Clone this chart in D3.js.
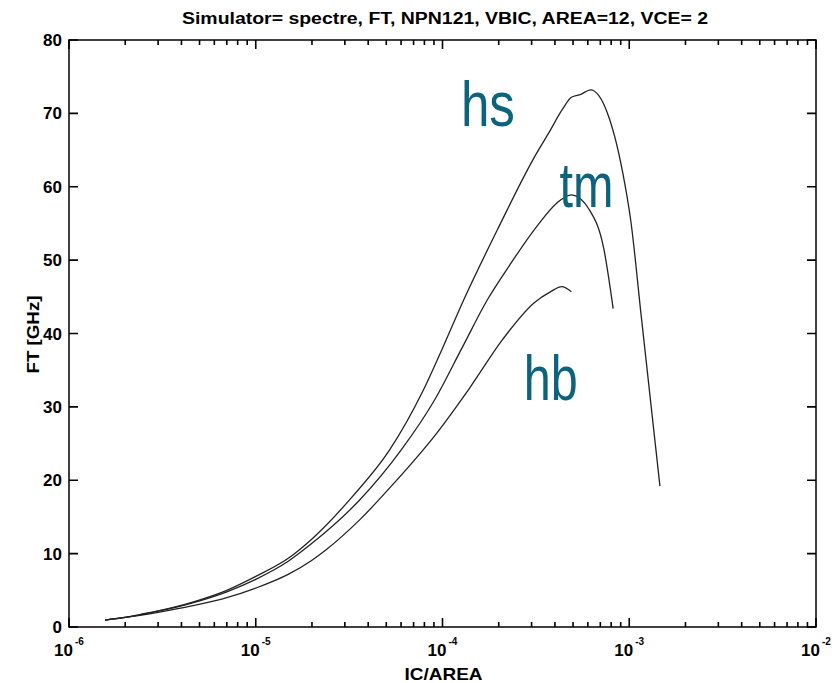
<!DOCTYPE html>
<html>
<head>
<meta charset="utf-8">
<script src="https://cdn.jsdelivr.net/npm/d3@7"></script>
<style>
  body { margin: 0; background: #fff; }
  text { font-family: "Liberation Sans", Arial, sans-serif; }
</style>
</head>
<body>
<div id="chart-area"></div>
<script>
// data
const icHs = [1.56e-6, 2.0e-6, 2.4e-6, 3.0e-6, 4.6e-6, 7.0e-6, 1.0e-5, 1.5e-5, 2.0e-5, 3.3e-5, 5.2e-5, 7.9e-5, 1.0e-4, 1.3e-4, 2.0e-4, 3.1e-4, 3.7e-4, 4.4e-4, 4.9e-4, 5.5e-4, 6.2e-4, 7.6e-4, 9.2e-4, 1.02e-3, 1.16e-3, 1.46e-3];
const ftHs = [0.95, 1.3, 1.7, 2.2, 3.4, 5.0, 6.9, 9.4, 12.0, 17.8, 24.1, 32.3, 38.0, 44.6, 54.5, 64.0, 67.3, 70.6, 72.2, 72.6, 73.2, 70.2, 62.1, 55.3, 42.3, 19.2];

const icTm = [1.56e-6, 2.0e-6, 2.4e-6, 3.0e-6, 4.6e-6, 7.0e-6, 1.0e-5, 1.5e-5, 2.0e-5, 3.6e-5, 6.0e-5, 9.1e-5, 1.27e-4, 1.73e-4, 2.3e-4, 3.2e-4, 4.1e-4, 4.9e-4, 6.1e-4, 7.3e-4, 8.2e-4];
const ftTm = [0.95, 1.3, 1.65, 2.15, 3.3, 4.8, 6.5, 9.0, 11.4, 17.3, 24.1, 31.0, 38.0, 44.5, 49.4, 54.6, 57.8, 58.9, 56.9, 51.6, 43.4];

const icHb = [1.56e-6, 2.0e-6, 2.4e-6, 3.0e-6, 4.6e-6, 7.0e-6, 1.0e-5, 1.5e-5, 2.0e-5, 2.4e-5, 3.6e-5, 5.5e-5, 9.3e-5, 1.4e-4, 2.1e-4, 3.1e-4, 3.8e-4, 4.35e-4, 4.9e-4];
const ftHb = [0.95, 1.3, 1.6, 2.0, 2.9, 4.0, 5.3, 7.2, 9.1, 10.6, 14.6, 19.6, 26.4, 32.6, 39.2, 44.2, 45.7, 46.4, 45.7];

const yTicks = [0, 10, 20, 30, 40, 50, 60, 70, 80];
const xDecades = [1e-6, 1e-5, 1e-4, 1e-3, 1e-2];
const xExponents = ['-6', '-5', '-4', '-3', '-2'];

const curveNames = ['hs', 'tm', 'hb'];
const nameIc = [1.75e-4, 5.9e-4, 3.8e-4];
const nameFt = [68.3, 57.3, 31.0];

// margins
const margin = { left: 69, right: 20, top: 40, bottom: 56 };
const width = 836 - margin.left - margin.right;
const height = 683 - margin.top - margin.bottom;

const svg = d3.select('#chart-area')
    .append('svg')
        .attr('width', 836)
        .attr('height', 683);

const g = svg.append('g')
    .attr('transform', `translate(${margin.left}, ${margin.top})`);

const x = d3.scaleLog()
    .domain([1e-6, 1e-2])
    .range([0, width]);

const y = d3.scaleLinear()
    .domain([0, 80])
    .range([height, 0]);

// minor ticks 2..9 in each decade
const minor = [];
xDecades.slice(0, -1).forEach(dec => {
    for (let k = 2; k <= 9; k++) minor.push(dec * k);
});

// tick marks as one path, all pointing inward
const xTickData = xDecades.map(v => ({ v, len: 9 }))
    .concat(minor.map(v => ({ v, len: 5 })));
const tickPath = d3.path();
xTickData.forEach(d => {
    const px = x(d.v);
    tickPath.moveTo(px, height);
    tickPath.lineTo(px, height - d.len);
    tickPath.moveTo(px, 0);
    tickPath.lineTo(px, d.len);
});
yTicks.forEach(v => {
    tickPath.moveTo(0, y(v));
    tickPath.lineTo(9, y(v));
    tickPath.moveTo(width, y(v));
    tickPath.lineTo(width - 9, y(v));
});
g.append('path')
    .attr('d', tickPath.toString())
    .attr('fill', 'none')
    .attr('stroke', '#000')
    .attr('stroke-width', 1.6);

// frame
g.append('rect')
    .attr('width', width)
    .attr('height', height)
    .attr('fill', 'none')
    .attr('stroke', '#000')
    .attr('stroke-width', 1.5);

// y tick labels
g.selectAll('.ylab')
    .data(yTicks)
    .enter()
    .append('text')
        .attr('class', 'ylab')
        .attr('x', -7)
        .attr('y', d => y(d))
        .attr('dy', '0.36em')
        .attr('text-anchor', 'end')
        .attr('font-size', '17px')
        .attr('font-weight', 'bold')
        .text(d => d);

// decade labels 10^n
const xl = g.selectAll('.xlab')
    .data(xDecades)
    .enter()
    .append('text')
        .attr('class', 'xlab')
        .attr('x', d => x(d))
        .attr('y', height + 29)
        .attr('text-anchor', 'middle')
        .attr('font-size', '17px')
        .attr('font-weight', 'bold');
xl.append('tspan').text('10');
xl.append('tspan')
    .attr('dy', -11)
    .attr('dx', 2)
    .attr('font-size', '10px')
    .text((d, i) => xExponents[i]);

// axis labels
g.append('text')
    .attr('x', width / 2 + 1)
    .attr('y', height + 53)
    .attr('text-anchor', 'middle')
    .attr('font-size', '17px')
    .attr('font-weight', 'bold')
    .attr('textLength', 78)
    .attr('lengthAdjust', 'spacingAndGlyphs')
    .text('IC/AREA');

g.append('text')
    .attr('transform', `translate(-30, ${height / 2 + 1}) rotate(-90)`)
    .attr('text-anchor', 'middle')
    .attr('font-size', '16px')
    .attr('font-weight', 'bold')
    .attr('textLength', 78)
    .attr('lengthAdjust', 'spacingAndGlyphs')
    .text('FT [GHz]');

// title
svg.append('text')
    .attr('x', 445)
    .attr('y', 24)
    .attr('text-anchor', 'middle')
    .attr('font-size', '16px')
    .attr('font-weight', 'bold')
    .attr('textLength', 526)
    .attr('lengthAdjust', 'spacingAndGlyphs')
    .text('Simulator= spectre, FT, NPN121, VBIC, AREA=12, VCE= 2');

// curves
const line = d3.line()
    .x(d => x(d[0]))
    .y(d => y(d[1]))
    .curve(d3.curveMonotoneX);

const series = [d3.zip(icHs, ftHs), d3.zip(icTm, ftTm), d3.zip(icHb, ftHb)];

g.selectAll('.curve')
    .data(series)
    .enter()
    .append('path')
        .attr('class', 'curve')
        .attr('d', line)
        .attr('fill', 'none')
        .attr('stroke', '#222')
        .attr('stroke-width', 1.3);

// curve names
g.selectAll('.cname')
    .data(curveNames)
    .enter()
    .append('text')
        .attr('class', 'cname')
        .attr('x', (d, i) => x(nameIc[i]))
        .attr('y', (d, i) => y(nameFt[i]))
        .attr('text-anchor', 'middle')
        .attr('font-family', '"Open Sans", sans-serif')
        .attr('font-size', '63px')
        .attr('textLength', 54)
        .attr('lengthAdjust', 'spacingAndGlyphs')
        .attr('fill', '#0d637c')
        .text(d => d);
</script>
</body>
</html>
